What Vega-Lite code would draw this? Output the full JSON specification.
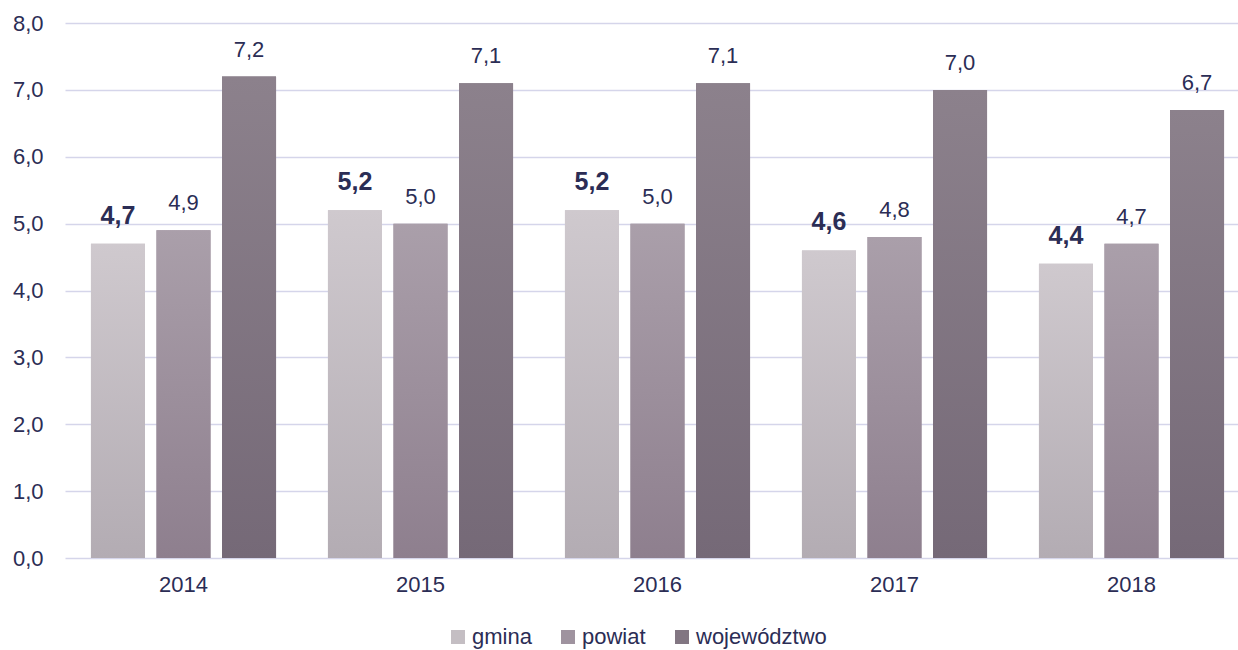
{
  "$schema": "https://vega.github.io/schema/vega-lite/v6.json",
  "width": 1185,
  "height": 535,
  "autosize": {"type": "none"},
  "padding": {"left": 65, "top": 23, "right": 0, "bottom": 92},
  "background": "white",
  "config": {
    "view": {"stroke": null},
    "font": "Liberation Sans",
    "locale": {"number": {"decimal": ",", "thousands": " ", "grouping": [3], "currency": ["", " zł"]}}
  },
  "data": {
    "values": [
      {"rok": "2014", "jednostka": "gmina", "wartosc": 4.7},
      {"rok": "2014", "jednostka": "powiat", "wartosc": 4.9},
      {"rok": "2014", "jednostka": "województwo", "wartosc": 7.2},
      {"rok": "2015", "jednostka": "gmina", "wartosc": 5.2},
      {"rok": "2015", "jednostka": "powiat", "wartosc": 5.0},
      {"rok": "2015", "jednostka": "województwo", "wartosc": 7.1},
      {"rok": "2016", "jednostka": "gmina", "wartosc": 5.2},
      {"rok": "2016", "jednostka": "powiat", "wartosc": 5.0},
      {"rok": "2016", "jednostka": "województwo", "wartosc": 7.1},
      {"rok": "2017", "jednostka": "gmina", "wartosc": 4.6},
      {"rok": "2017", "jednostka": "powiat", "wartosc": 4.8},
      {"rok": "2017", "jednostka": "województwo", "wartosc": 7.0},
      {"rok": "2018", "jednostka": "gmina", "wartosc": 4.4},
      {"rok": "2018", "jednostka": "powiat", "wartosc": 4.7},
      {"rok": "2018", "jednostka": "województwo", "wartosc": 6.7}
    ]
  },
  "encoding": {
    "x": {
      "field": "rok", "type": "nominal", "title": null,
      "scale": {"paddingInner": 0.219, "paddingOuter": 0.1095},
      "axis": {"labelAngle": 0, "domain": false, "ticks": false, "labelFontSize": 22, "labelColor": "#2b2d55", "labelPadding": 16, "labelFont": "Liberation Sans"}
    },
    "xOffset": {"field": "jednostka", "type": "nominal", "scale": {"domain": ["gmina", "powiat", "województwo"], "paddingInner": 0.1756, "paddingOuter": 0}},
    "y": {
      "field": "wartosc", "type": "quantitative", "title": null,
      "scale": {"domain": [0, 8]},
      "axis": {"tickCount": 8, "format": ".1f", "domain": false, "ticks": false, "labelFontSize": 22, "labelColor": "#2b2d55", "labelPadding": 22, "gridColor": "#d5d5ea", "gridWidth": 1.5, "labelFont": "Liberation Sans"}
    }
  },
  "layer": [
    {
      "mark": {"type": "bar"},
      "encoding": {
        "color": {
          "field": "jednostka", "type": "nominal",
          "scale": {
            "domain": ["gmina", "powiat", "województwo"],
            "range": ["#c4bec3", "#9f939f", "#827682"]
          },
          "legend": {
            "title": null, "orient": "none", "direction": "horizontal",
            "legendX": 382, "legendY": 603,
            "symbolType": "square", "symbolSize": 196, "symbolStrokeWidth": 0,
            "labelFontSize": 22, "labelColor": "#2b2d55", "labelFont": "Liberation Sans",
            "columnPadding": 25, "labelOffset": 3, "padding": 0
          }
        }
      }
    },
    {
      "transform": [{"filter": "datum.jednostka === 'gmina'"}],
      "mark": {"type": "bar", "fill": {"gradient": "linear", "x1": 0, "y1": 0, "x2": 0, "y2": 1, "stops": [{"offset": 0, "color": "#cfc9ce"}, {"offset": 1, "color": "#b3acb3"}]}},
      "encoding": {}
    },
    {
      "transform": [{"filter": "datum.jednostka === 'powiat'"}],
      "mark": {"type": "bar", "fill": {"gradient": "linear", "x1": 0, "y1": 0, "x2": 0, "y2": 1, "stops": [{"offset": 0, "color": "#aa9faa"}, {"offset": 1, "color": "#8e7f8e"}]}},
      "encoding": {}
    },
    {
      "transform": [{"filter": "datum.jednostka === 'województwo'"}],
      "mark": {"type": "bar", "fill": {"gradient": "linear", "x1": 0, "y1": 0, "x2": 0, "y2": 1, "stops": [{"offset": 0, "color": "#8c818c"}, {"offset": 1, "color": "#756977"}]}},
      "encoding": {}
    },
    {
      "transform": [{"filter": "datum.jednostka === 'gmina'"}],
      "mark": {"type": "text", "baseline": "alphabetic", "dy": -20, "fontSize": 25, "fontWeight": "bold", "color": "#2b2d55", "font": "Liberation Sans"},
      "encoding": {"text": {"field": "wartosc", "type": "quantitative", "format": ".1f"}}
    },
    {
      "transform": [{"filter": "datum.jednostka !== 'gmina'"}],
      "mark": {"type": "text", "baseline": "alphabetic", "dy": -20, "fontSize": 22, "color": "#2b2d55", "font": "Liberation Sans"},
      "encoding": {"text": {"field": "wartosc", "type": "quantitative", "format": ".1f"}}
    }
  ]
}
